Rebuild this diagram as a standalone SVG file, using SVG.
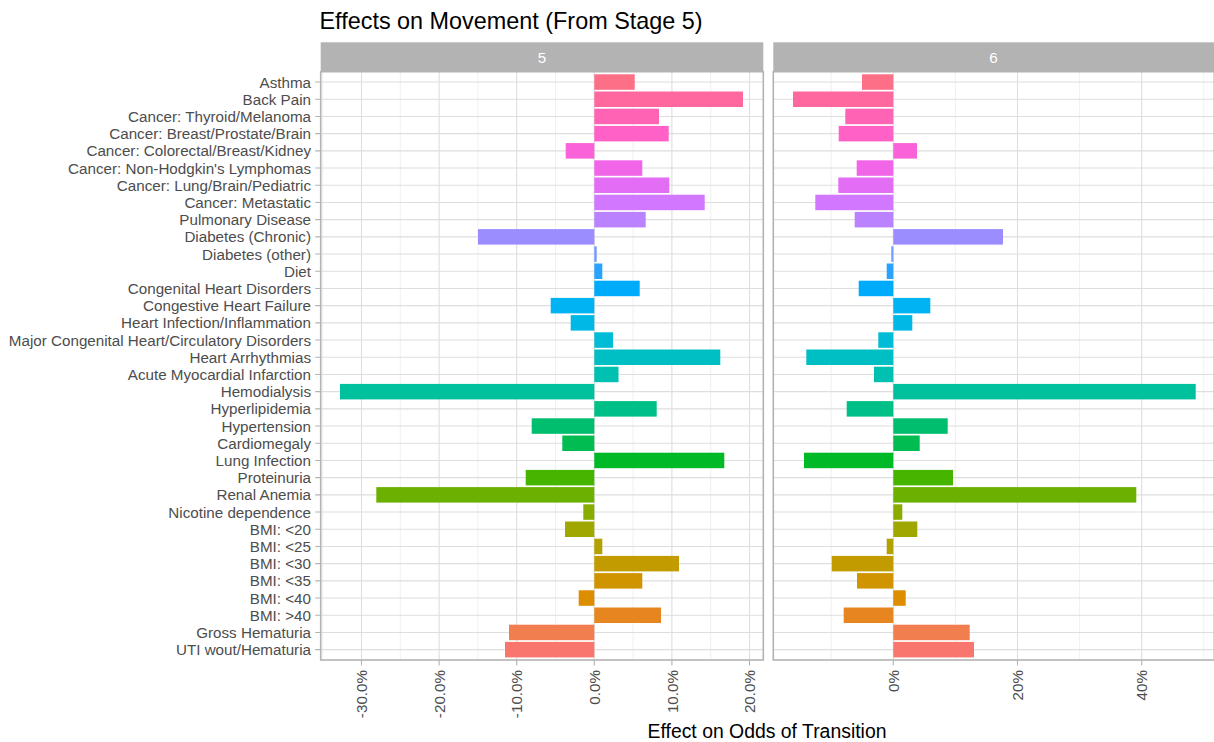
<svg xmlns="http://www.w3.org/2000/svg" width="1214" height="742" viewBox="0 0 1214 742">
<style>
text{font-family:"Liberation Sans",Arial,Helvetica,sans-serif}
.title{font-size:23.4px;fill:#000}
.axtitle{font-size:19.4px;fill:#000}
.strip{fill:#B3B3B3}
.striptxt{font-size:15.2px;fill:#FFFFFF;text-anchor:middle}
.ylab{font-size:15.2px;fill:#4D4D4D;text-anchor:end}
.xlab{font-size:15.2px;fill:#4D4D4D;text-anchor:end}
.gmaj{stroke:#DEDEDE;stroke-width:1.1;fill:none}
.gmin{stroke:#E6E6E6;stroke-width:0.6;fill:none}
.tick{stroke:#B3B3B3;stroke-width:1.1;fill:none}
.border{fill:none;stroke:#B3B3B3;stroke-width:1.6}
.c0{fill:#FD6F87}.c1{fill:#FF689E}.c2{fill:#FF63B4}.c3{fill:#FF61C7}.c4{fill:#FA62D9}.c5{fill:#F166E8}
.c6{fill:#E46DF5}.c7{fill:#D277FF}.c8{fill:#BA82FF}.c9{fill:#9C8DFF}.c10{fill:#7398FF}.c11{fill:#29A3FF}
.c12{fill:#00ABFC}.c13{fill:#00B3F2}.c14{fill:#00B8E5}.c15{fill:#00BCD6}.c16{fill:#00BFC4}.c17{fill:#00C0B2}
.c18{fill:#00C19D}.c19{fill:#00C087}.c20{fill:#00BE6E}.c21{fill:#00BC51}.c22{fill:#00B927}.c23{fill:#45B500}
.c24{fill:#6DB100}.c25{fill:#89AC00}.c26{fill:#9FA700}.c27{fill:#B2A100}.c28{fill:#C29B00}.c29{fill:#D09400}
.c30{fill:#DD8D00}.c31{fill:#E7851E}.c32{fill:#F07E4E}.c33{fill:#F8766D}
</style>
<rect x="0" y="0" width="1214" height="742" fill="#FFFFFF"/>
<text class="title" x="319.5" y="28.5">Effects on Movement (From Stage 5)</text>

<g id="strip-5">
<rect class="strip" x="320.7" y="42.3" width="442.6" height="29.4"/>
<text class="striptxt" x="542" y="62.6">5</text>
</g>
<g id="strip-6">
<rect class="strip" x="773.3" y="42.3" width="440.7" height="29.4"/>
<text class="striptxt" x="993.5" y="62.6">6</text>
</g>

<g id="panel-5-grid">
<path class="gmin" d="M322.7 71.7V660M400.3 71.7V660M477.9 71.7V660M555.5 71.7V660M633.1 71.7V660M710.7 71.7V660"/>
<path class="gmaj" d="M361.5 71.7V660M439.1 71.7V660M516.7 71.7V660M594.3 71.7V660M671.9 71.7V660M749.5 71.7V660"/>
<path class="gmaj" d="M320.7 82.05H763.3M320.7 99.25H763.3M320.7 116.45H763.3M320.7 133.65H763.3M320.7 150.85H763.3M320.7 168.05H763.3M320.7 185.25H763.3M320.7 202.45H763.3M320.7 219.65H763.3M320.7 236.85H763.3M320.7 254.05H763.3M320.7 271.25H763.3M320.7 288.45H763.3M320.7 305.65H763.3M320.7 322.85H763.3M320.7 340.05H763.3M320.7 357.25H763.3M320.7 374.45H763.3M320.7 391.65H763.3M320.7 408.85H763.3M320.7 426.05H763.3M320.7 443.25H763.3M320.7 460.45H763.3M320.7 477.65H763.3M320.7 494.85H763.3M320.7 512.05H763.3M320.7 529.25H763.3M320.7 546.45H763.3M320.7 563.65H763.3M320.7 580.85H763.3M320.7 598.05H763.3M320.7 615.25H763.3M320.7 632.45H763.3M320.7 649.65H763.3"/>
</g>
<g id="panel-6-grid">
<path class="gmin" d="M831.2 71.7V660M955.4 71.7V660M1079.6 71.7V660M1203.8 71.7V660"/>
<path class="gmaj" d="M893.3 71.7V660M1017.5 71.7V660M1141.7 71.7V660"/>
<path class="gmaj" d="M773.3 82.05H1214M773.3 99.25H1214M773.3 116.45H1214M773.3 133.65H1214M773.3 150.85H1214M773.3 168.05H1214M773.3 185.25H1214M773.3 202.45H1214M773.3 219.65H1214M773.3 236.85H1214M773.3 254.05H1214M773.3 271.25H1214M773.3 288.45H1214M773.3 305.65H1214M773.3 322.85H1214M773.3 340.05H1214M773.3 357.25H1214M773.3 374.45H1214M773.3 391.65H1214M773.3 408.85H1214M773.3 426.05H1214M773.3 443.25H1214M773.3 460.45H1214M773.3 477.65H1214M773.3 494.85H1214M773.3 512.05H1214M773.3 529.25H1214M773.3 546.45H1214M773.3 563.65H1214M773.3 580.85H1214M773.3 598.05H1214M773.3 615.25H1214M773.3 632.45H1214M773.3 649.65H1214"/>
</g>

<g id="bars-5">
<rect class="c0" x="594.3" y="74.3" width="40.4" height="15.5"/>
<rect class="c1" x="594.3" y="91.5" width="148.7" height="15.5"/>
<rect class="c2" x="594.3" y="108.7" width="64.7" height="15.5"/>
<rect class="c3" x="594.3" y="125.9" width="74.4" height="15.5"/>
<rect class="c4" x="565.7" y="143.1" width="28.6" height="15.5"/>
<rect class="c5" x="594.3" y="160.3" width="48" height="15.5"/>
<rect class="c6" x="594.3" y="177.5" width="75" height="15.5"/>
<rect class="c7" x="594.3" y="194.7" width="110.4" height="15.5"/>
<rect class="c8" x="594.3" y="211.9" width="51.4" height="15.5"/>
<rect class="c9" x="478" y="229.1" width="116.3" height="15.5"/>
<rect class="c10" x="594.3" y="246.3" width="2.4" height="15.5"/>
<rect class="c11" x="594.3" y="263.5" width="8" height="15.5"/>
<rect class="c12" x="594.3" y="280.7" width="45.4" height="15.5"/>
<rect class="c13" x="550.7" y="297.9" width="43.6" height="15.5"/>
<rect class="c14" x="570.7" y="315.1" width="23.6" height="15.5"/>
<rect class="c15" x="594.3" y="332.3" width="18.7" height="15.5"/>
<rect class="c16" x="594.3" y="349.5" width="126" height="15.5"/>
<rect class="c17" x="594.3" y="366.7" width="24.2" height="15.5"/>
<rect class="c18" x="340" y="383.9" width="254.3" height="15.5"/>
<rect class="c19" x="594.3" y="401.1" width="62.4" height="15.5"/>
<rect class="c20" x="531.7" y="418.3" width="62.6" height="15.5"/>
<rect class="c21" x="562.3" y="435.5" width="32" height="15.5"/>
<rect class="c22" x="594.3" y="452.7" width="130" height="15.5"/>
<rect class="c23" x="525.7" y="469.9" width="68.6" height="15.5"/>
<rect class="c24" x="376.3" y="487.1" width="218" height="15.5"/>
<rect class="c25" x="583.3" y="504.3" width="11" height="15.5"/>
<rect class="c26" x="565" y="521.5" width="29.3" height="15.5"/>
<rect class="c27" x="594.3" y="538.7" width="8" height="15.5"/>
<rect class="c28" x="594.3" y="555.9" width="84.7" height="15.5"/>
<rect class="c29" x="594.3" y="573.1" width="48" height="15.5"/>
<rect class="c30" x="578.7" y="590.3" width="15.6" height="15.5"/>
<rect class="c31" x="594.3" y="607.5" width="66.7" height="15.5"/>
<rect class="c32" x="509" y="624.7" width="85.3" height="15.5"/>
<rect class="c33" x="505" y="641.9" width="89.3" height="15.5"/>
</g>

<g id="bars-6">
<rect class="c0" x="862" y="74.3" width="31.3" height="15.5"/>
<rect class="c1" x="793" y="91.5" width="100.3" height="15.5"/>
<rect class="c2" x="845.3" y="108.7" width="48" height="15.5"/>
<rect class="c3" x="838.7" y="125.9" width="54.6" height="15.5"/>
<rect class="c4" x="893.3" y="143.1" width="23.7" height="15.5"/>
<rect class="c5" x="856.7" y="160.3" width="36.6" height="15.5"/>
<rect class="c6" x="838.3" y="177.5" width="55" height="15.5"/>
<rect class="c7" x="815.3" y="194.7" width="78" height="15.5"/>
<rect class="c8" x="854.7" y="211.9" width="38.6" height="15.5"/>
<rect class="c9" x="893.3" y="229.1" width="109.7" height="15.5"/>
<rect class="c10" x="891.3" y="246.3" width="2" height="15.5"/>
<rect class="c11" x="886.7" y="263.5" width="6.6" height="15.5"/>
<rect class="c12" x="858.7" y="280.7" width="34.6" height="15.5"/>
<rect class="c13" x="893.3" y="297.9" width="37" height="15.5"/>
<rect class="c14" x="893.3" y="315.1" width="19" height="15.5"/>
<rect class="c15" x="878.3" y="332.3" width="15" height="15.5"/>
<rect class="c16" x="806.3" y="349.5" width="87" height="15.5"/>
<rect class="c17" x="874" y="366.7" width="19.3" height="15.5"/>
<rect class="c18" x="893.3" y="383.9" width="302.4" height="15.5"/>
<rect class="c19" x="846.7" y="401.1" width="46.6" height="15.5"/>
<rect class="c20" x="893.3" y="418.3" width="54.4" height="15.5"/>
<rect class="c21" x="893.3" y="435.5" width="26.4" height="15.5"/>
<rect class="c22" x="804" y="452.7" width="89.3" height="15.5"/>
<rect class="c23" x="893.3" y="469.9" width="59.7" height="15.5"/>
<rect class="c24" x="893.3" y="487.1" width="243" height="15.5"/>
<rect class="c25" x="893.3" y="504.3" width="9" height="15.5"/>
<rect class="c26" x="893.3" y="521.5" width="24" height="15.5"/>
<rect class="c27" x="886.7" y="538.7" width="6.6" height="15.5"/>
<rect class="c28" x="831.7" y="555.9" width="61.6" height="15.5"/>
<rect class="c29" x="857" y="573.1" width="36.3" height="15.5"/>
<rect class="c30" x="893.3" y="590.3" width="12.4" height="15.5"/>
<rect class="c31" x="843.7" y="607.5" width="49.6" height="15.5"/>
<rect class="c32" x="893.3" y="624.7" width="76.4" height="15.5"/>
<rect class="c33" x="893.3" y="641.9" width="80.7" height="15.5"/>
</g>

<g id="panel-borders">
<rect class="border" x="320.7" y="71.7" width="442.6" height="588.3"/>
<rect class="border" x="773.3" y="71.7" width="441" height="588.3"/>
</g>

<g id="y-axis">
<path class="tick" d="M315.2 82.05H320.7M315.2 99.25H320.7M315.2 116.45H320.7M315.2 133.65H320.7M315.2 150.85H320.7M315.2 168.05H320.7M315.2 185.25H320.7M315.2 202.45H320.7M315.2 219.65H320.7M315.2 236.85H320.7M315.2 254.05H320.7M315.2 271.25H320.7M315.2 288.45H320.7M315.2 305.65H320.7M315.2 322.85H320.7M315.2 340.05H320.7M315.2 357.25H320.7M315.2 374.45H320.7M315.2 391.65H320.7M315.2 408.85H320.7M315.2 426.05H320.7M315.2 443.25H320.7M315.2 460.45H320.7M315.2 477.65H320.7M315.2 494.85H320.7M315.2 512.05H320.7M315.2 529.25H320.7M315.2 546.45H320.7M315.2 563.65H320.7M315.2 580.85H320.7M315.2 598.05H320.7M315.2 615.25H320.7M315.2 632.45H320.7M315.2 649.65H320.7"/>
<text class="ylab" x="311" y="87.6">Asthma</text>
<text class="ylab" x="311" y="104.8">Back Pain</text>
<text class="ylab" x="311" y="122">Cancer: Thyroid/Melanoma</text>
<text class="ylab" x="311" y="139.2">Cancer: Breast/Prostate/Brain</text>
<text class="ylab" x="311" y="156.4">Cancer: Colorectal/Breast/Kidney</text>
<text class="ylab" x="311" y="173.6">Cancer: Non-Hodgkin's Lymphomas</text>
<text class="ylab" x="311" y="190.8">Cancer: Lung/Brain/Pediatric</text>
<text class="ylab" x="311" y="208">Cancer: Metastatic</text>
<text class="ylab" x="311" y="225.2">Pulmonary Disease</text>
<text class="ylab" x="311" y="242.4">Diabetes (Chronic)</text>
<text class="ylab" x="311" y="259.6">Diabetes (other)</text>
<text class="ylab" x="311" y="276.8">Diet</text>
<text class="ylab" x="311" y="294">Congenital Heart Disorders</text>
<text class="ylab" x="311" y="311.2">Congestive Heart Failure</text>
<text class="ylab" x="311" y="328.4">Heart Infection/Inflammation</text>
<text class="ylab" x="311" y="345.6">Major Congenital Heart/Circulatory Disorders</text>
<text class="ylab" x="311" y="362.8">Heart Arrhythmias</text>
<text class="ylab" x="311" y="380">Acute Myocardial Infarction</text>
<text class="ylab" x="311" y="397.2">Hemodialysis</text>
<text class="ylab" x="311" y="414.4">Hyperlipidemia</text>
<text class="ylab" x="311" y="431.6">Hypertension</text>
<text class="ylab" x="311" y="448.8">Cardiomegaly</text>
<text class="ylab" x="311" y="466">Lung Infection</text>
<text class="ylab" x="311" y="483.2">Proteinuria</text>
<text class="ylab" x="311" y="500.4">Renal Anemia</text>
<text class="ylab" x="311" y="517.6">Nicotine dependence</text>
<text class="ylab" x="311" y="534.8">BMI: &lt;20</text>
<text class="ylab" x="311" y="552">BMI: &lt;25</text>
<text class="ylab" x="311" y="569.2">BMI: &lt;30</text>
<text class="ylab" x="311" y="586.4">BMI: &lt;35</text>
<text class="ylab" x="311" y="603.6">BMI: &lt;40</text>
<text class="ylab" x="311" y="620.8">BMI: &gt;40</text>
<text class="ylab" x="311" y="638">Gross Hematuria</text>
<text class="ylab" x="311" y="655.2">UTI wout/Hematuria</text>
</g>

<g id="x-axis-5">
<path class="tick" d="M361.5 660V665.5M439.1 660V665.5M516.7 660V665.5M594.3 660V665.5M671.9 660V665.5M749.5 660V665.5"/>
<text class="xlab" transform="translate(367.1 670) rotate(-90)">-30.0%</text>
<text class="xlab" transform="translate(444.7 670) rotate(-90)">-20.0%</text>
<text class="xlab" transform="translate(522.3 670) rotate(-90)">-10.0%</text>
<text class="xlab" transform="translate(599.9 670) rotate(-90)">0.0%</text>
<text class="xlab" transform="translate(677.5 670) rotate(-90)">10.0%</text>
<text class="xlab" transform="translate(755.1 670) rotate(-90)">20.0%</text>
</g>
<g id="x-axis-6">
<path class="tick" d="M893.3 660V665.5M1017.5 660V665.5M1141.7 660V665.5"/>
<text class="xlab" transform="translate(898.9 670) rotate(-90)">0%</text>
<text class="xlab" transform="translate(1023.1 670) rotate(-90)">20%</text>
<text class="xlab" transform="translate(1147.3 670) rotate(-90)">40%</text>
</g>

<text class="axtitle" x="767" y="738" text-anchor="middle">Effect on Odds of Transition</text>
</svg>
